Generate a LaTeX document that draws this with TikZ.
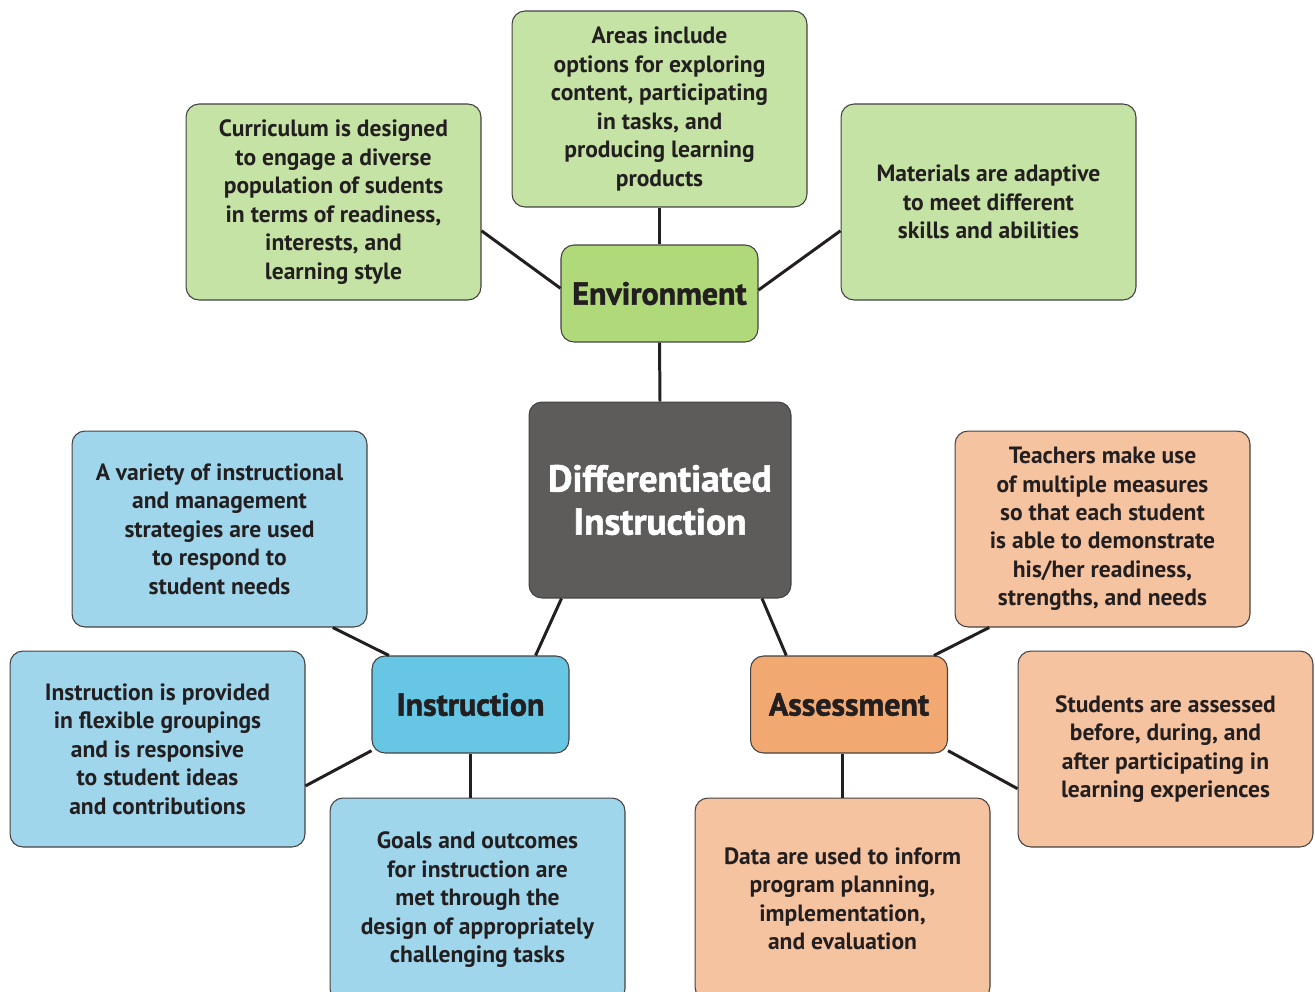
\documentclass[tikz,border=0pt]{standalone}
\usepackage{fontspec}
\setmainfont{PT Sans}
\newfontfamily\hubfont{PT Sans}[BoldFeatures={FakeBold=1.6}]
\usetikzlibrary{positioning}
\definecolor{txt}{HTML}{231F20}
\definecolor{darkbox}{HTML}{5E5C5A}
\definecolor{envdark}{HTML}{B0D97A}
\definecolor{envlight}{HTML}{C5E3A5}
\definecolor{insdark}{HTML}{66C6E4}
\definecolor{inslight}{HTML}{A0D6EC}
\definecolor{assdark}{HTML}{F2A971}
\definecolor{asslight}{HTML}{F6C3A0}
\begin{document}
\begin{tikzpicture}[x=0.02cm,y=-0.02cm,
    box/.style={draw=txt!85,line width=0.6pt,rectangle,rounded corners=0.26cm,align=center,
      minimum width=5.9cm,minimum height=3.92cm,text=txt,
      font=\fontsize{13.4}{16.2}\selectfont\bfseries},
    hub/.style={box,minimum width=3.94cm,minimum height=1.94cm,
      font=\hubfont\fontsize{18.2}{21}\selectfont\bfseries},
    link/.style={draw=txt,line width=1.7pt}]
  \useasboundingbox (0,0) rectangle (1315,991);
  \clip (0,0) rectangle (1315,991);

  %%%%%%%%%% centre %%%%%%%%%%
  \node[box,fill=darkbox,text=white,minimum width=5.24cm,minimum height=3.92cm,
    font=\hubfont\fontsize{21.3}{24.5}\selectfont\bfseries] (d) at (660,500) {Differentiated\\Instruction};

  %%%%%%%%%% environment %%%%%%%%%%
  \node[hub,fill=envdark] (e0) at (659.5,293.5) {Environment};
  \node[box,fill=envlight] (e1) at (659.5,109) {Areas include\\options for exploring\\content, participating\\in tasks, and\\producing learning\\products};
  \node[box,fill=envlight] (e2) at (333.5,202) {Curriculum is designed\\to engage a diverse\\population of sudents\\in terms of readiness,\\interests, and\\learning style};
  \node[box,fill=envlight] (e3) at (988.5,202) {Materials are adaptive\\to meet different\\skills and abilities};

  \draw[link] (e1.south) to (e0.north);
  \draw[link] (e2.-11.5) to (e0.177);
  \draw[link] (e3.191) to (e0.2);
  \draw[link] (e0.south) to (d.north);

  %%%%%%%%%% instruction %%%%%%%%%%
  \node[hub,fill=insdark] (i0) at (470.5,704.5) {Instruction};
  \node[box,fill=inslight] (i1) at (219.5,529) {A variety of instructional\\and management\\strategies are used\\to respond to\\student needs};
  \node[box,fill=inslight] (i2) at (157.5,749) {Instruction is provided\\in flexible groupings\\and is responsive\\to student ideas\\and contributions};
  \node[box,fill=inslight,minimum height=4.08cm] (i3) at (477.5,900) {Goals and outcomes\\for instruction are\\met through the\\design of appropriately\\challenging tasks};

  \draw[link] (d.225) to (i0.37);
  \draw[link] (i1.-41) to (i0.149);
  \draw[link] (i2.-14) to (i0.205);
  \draw[link] (i0.south) to (i0.south |- i3.north);

  %%%%%%%%%% assessment %%%%%%%%%%
  \node[hub,fill=assdark] (a0) at (849,704.5) {Assessment};
  \node[box,fill=asslight] (a1) at (1102.5,529) {Teachers make use\\of multiple measures\\so that each student\\is able to demonstrate\\his/her readiness,\\strengths, and needs};
  \node[box,fill=asslight] (a2) at (1165.5,749) {Students are assessed\\before, during, and\\after participating in\\learning experiences};
  \node[box,fill=asslight,minimum height=4.04cm] (a3) at (842.5,899) {Data are used to inform\\program planning,\\implementation,\\and evaluation};

  \draw[link] (d.-44) to (a0.142);
  \draw[link] (a0.30) to (a1.221);
  \draw[link] (a0.-25) to (a2.195);
  \draw[link] (a3.north) to (a3.north |- a0.south);
\end{tikzpicture}
\end{document}
